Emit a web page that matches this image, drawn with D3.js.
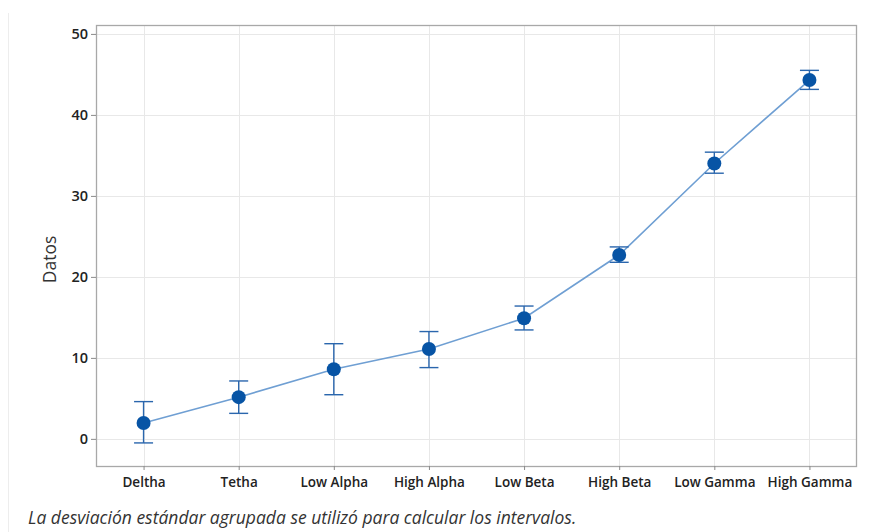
<!DOCTYPE html>
<html>
<head>
<meta charset="utf-8">
<script src="https://cdn.jsdelivr.net/npm/d3@7"></script>
<style>
  html, body { margin: 0; padding: 0; background: #fff; }
  svg { display: block; }
</style>
</head>
<body>
<svg id="chart" width="881" height="532"></svg>
<script>
const categories = ["Deltha", "Tetha", "Low Alpha", "High Alpha", "Low Beta", "High Beta", "Low Gamma", "High Gamma"];
const means = [1.95, 5.15, 8.6, 11.1, 14.9, 22.7, 34.0, 44.3];
const upper = [4.6, 7.15, 11.75, 13.25, 16.4, 23.7, 35.4, 45.5];
const lower = [-0.5, 3.15, 5.45, 8.8, 13.45, 21.8, 32.8, 43.15];
const yTicks = [0, 10, 20, 30, 40, 50];
const yLabel = "Datos";
const caption = "La desviación estándar agrupada se utilizó para calcular los intervalos.";

const svg = d3.select("#chart");
const frame = { left: 96, right: 857, top: 25, bottom: 466 };

const x = d3.scalePoint().domain(categories).range([frame.left, frame.right]).padding(0.5);
const y = d3.scaleLinear().domain([-3.35, 51.1]).range([frame.bottom, frame.top]);

// page faint border
svg.append("line").attr("x1", 8.5).attr("x2", 8.5).attr("y1", 13).attr("y2", 532)
  .attr("stroke", "#ededed").attr("stroke-width", 1);

// gridlines
svg.append("g").selectAll("line").data(yTicks).join("line")
  .attr("x1", frame.left).attr("x2", frame.right)
  .attr("y1", d => Math.round(y(d)) + 0.5).attr("y2", d => Math.round(y(d)) + 0.5)
  .attr("stroke", "#e8e8e8");
svg.append("g").selectAll("line").data(categories).join("line")
  .attr("x1", d => Math.round(x(d)) + 0.5).attr("x2", d => Math.round(x(d)) + 0.5)
  .attr("y1", frame.top).attr("y2", frame.bottom)
  .attr("stroke", "#e8e8e8");

// frame
svg.append("rect")
  .attr("x", frame.left + 0.5).attr("y", frame.top + 0.5)
  .attr("width", frame.right - frame.left - 1).attr("height", frame.bottom - frame.top)
  .attr("fill", "none").attr("stroke", "#a8a8a8").attr("stroke-width", 1.3);

// axes
const yAxis = d3.axisLeft(y).tickValues(yTicks).tickSize(5).tickPadding(3);
const gy = svg.append("g").attr("transform", `translate(${frame.left},0)`).call(yAxis);
gy.select(".domain").remove();
gy.selectAll(".tick line").attr("stroke", "#8a8a8a");
gy.selectAll(".tick text")
  .attr("font-family", "'Open Sans', sans-serif").attr("font-size", 14.5).attr("font-weight", 600)
  .attr("fill", "#222");

const xAxis = d3.axisBottom(x).tickSize(4).tickPadding(7);
const gx = svg.append("g").attr("transform", `translate(0,${frame.bottom})`).call(xAxis);
gx.select(".domain").remove();
gx.selectAll(".tick line").attr("stroke", "#8a8a8a");
gx.selectAll(".tick text")
  .attr("font-family", "'Open Sans', sans-serif").attr("font-size", 13.5).attr("font-weight", 600)
  .attr("fill", "#222");

// y label
svg.append("text")
  .attr("transform", `translate(56,${(frame.top + frame.bottom) / 2 + 14}) rotate(-90)`)
  .attr("text-anchor", "middle")
  .attr("font-family", "'Open Sans', sans-serif").attr("font-size", 17.5)
  .attr("fill", "#333").text(yLabel);

// connecting line
const line = d3.line().x((d, i) => x(categories[i])).y(d => y(d));
svg.append("path").datum(means).attr("d", line)
  .attr("fill", "none").attr("stroke", "#6f9fd3").attr("stroke-width", 1.6);

// error bars
const eb = svg.append("g").attr("stroke", "#2a66ad").attr("stroke-width", 1.4);
categories.forEach((c, i) => {
  const cx = x(c);
  eb.append("line").attr("x1", cx).attr("x2", cx).attr("y1", y(upper[i])).attr("y2", y(lower[i]));
  eb.append("line").attr("x1", cx - 9.5).attr("x2", cx + 9.5).attr("y1", y(upper[i])).attr("y2", y(upper[i]));
  eb.append("line").attr("x1", cx - 9.5).attr("x2", cx + 9.5).attr("y1", y(lower[i])).attr("y2", y(lower[i]));
});

// markers
svg.append("g").selectAll("circle").data(means).join("circle")
  .attr("cx", (d, i) => x(categories[i])).attr("cy", d => y(d))
  .attr("r", 7).attr("fill", "#0754a5");

// caption
svg.append("text").attr("x", 28).attr("y", 524)
  .attr("font-family", "'Open Sans', sans-serif").attr("font-size", 17.5).attr("font-style", "italic")
  .attr("fill", "#333").text(caption);
</script>
</body>
</html>
